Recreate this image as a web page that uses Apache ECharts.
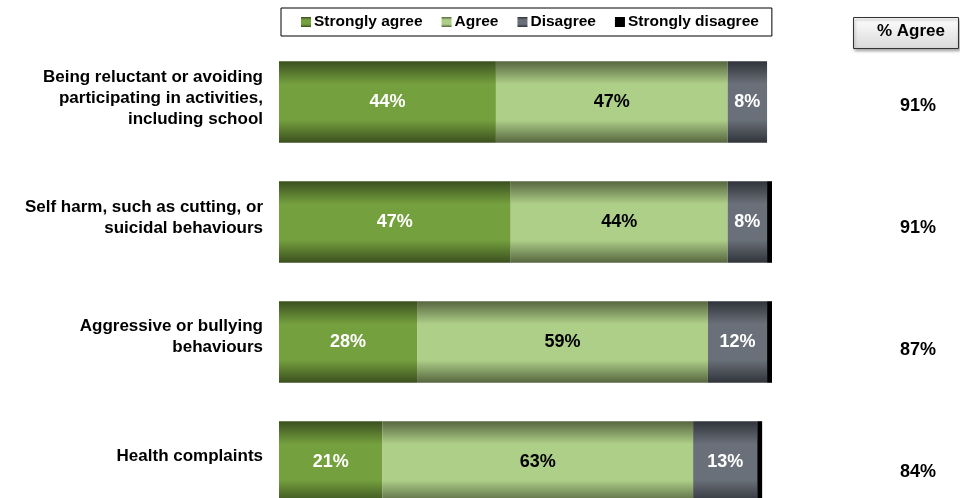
<!DOCTYPE html>
<html>
<head>
<meta charset="utf-8">
<script src="https://cdn.jsdelivr.net/npm/echarts@6/dist/echarts.min.js"></script>
<style>
  html, body { margin: 0; padding: 0; background: #fff; }
  #chart { width: 960px; height: 498px; }
</style>
</head>
<body>
<div id="chart"></div>
<script>
// Survey items, top to bottom
const categories = [
  'Being reluctant or avoiding\nparticipating in activities,\nincluding school',
  'Self harm, such as cutting, or\nsuicidal behaviours',
  'Aggressive or bullying\nbehaviours',
  'Health complaints'
];
// Response shares (%)
const stronglyAgree    = [44, 47, 28, 21];
const agree            = [47, 44, 59, 63];
const disagree         = [8, 8, 12, 13];
const stronglyDisagree = [0, 1, 1, 1];
// Combined "% Agree" column
const pctAgree = [91, 91, 87, 84];
const seriesNames = ['Strongly agree', 'Agree', 'Disagree', 'Strongly disagree'];

const FONT = 'Liberation Sans, Arial, sans-serif';

// vertical shading: dark edges, bright middle band
function band(edge, mid) {
  return new echarts.graphic.LinearGradient(0, 0, 0, 1, [
    { offset: 0, color: edge },
    { offset: 0.28, color: mid },
    { offset: 0.72, color: mid },
    { offset: 1, color: edge }
  ]);
}

const styles = [
  { color: band('#3a4f1f', '#75a03e'), label: '#ffffff' },
  { color: band('#56653f', '#aecf88'), label: '#000000' },
  { color: band('#30333a', '#6a7079'), label: '#ffffff' },
  { color: '#000000', label: '#ffffff' }
];
const values = [stronglyAgree, agree, disagree, stronglyDisagree];

const chart = echarts.init(document.getElementById('chart'));

const series = seriesNames.map((name, i) => ({
  name: name,
  type: 'bar',
  stack: 'total',
  barCategoryGap: '32%',
  xAxisIndex: 0,
  yAxisIndex: 0,
  data: values[i],
  itemStyle: { color: styles[i].color },
  label: {
    show: i < 3,
    position: 'inside',
    color: styles[i].label,
    fontFamily: FONT,
    fontWeight: 'bold',
    fontSize: 18,
    formatter: p => p.value > 0 ? p.value + '%' : ''
  },
  emphasis: { disabled: true }
}));

const hiddenAxis = { axisLine: { show: false }, axisTick: { show: false } };

chart.setOption({
  animation: false,
  backgroundColor: '#ffffff',
  legend: {
    data: seriesNames,
    icon: 'rect',
    left: 281,
    top: 8,
    padding: [6, 13, 6, 20],
    itemWidth: 10,
    itemHeight: 10,
    itemGap: 19,
    borderColor: '#000',
    borderWidth: 1,
    textStyle: { fontFamily: FONT, fontWeight: 'bold', fontSize: 15.5, color: '#000', padding: [0, 0, 0, -2] },
    selectedMode: false
  },
  grid: [
    // bars
    { left: 279, top: 42, width: 493, height: 480, outerBoundsMode: 'none' },
    // "% Agree" column
    { left: 279, top: 45, width: 493, height: 488, outerBoundsMode: 'none' },
    // item captions on the left
    { left: 279, top: 38.5, width: 493, height: 478, outerBoundsMode: 'none' }
  ],
  xAxis: [
    { type: 'value', gridIndex: 0, min: 0, max: 100, show: false },
    { type: 'value', gridIndex: 1, min: 0, max: 100, show: false },
    { type: 'value', gridIndex: 2, min: 0, max: 100, show: false }
  ],
  yAxis: [
    {
      type: 'category',
      gridIndex: 0,
      data: categories,
      inverse: true,
      show: false
    },
    Object.assign({
      type: 'category',
      gridIndex: 1,
      position: 'right',
      data: pctAgree.map(v => v + '%'),
      inverse: true,
      axisLabel: {
        margin: 146,
        align: 'center',
        color: '#000',
        fontFamily: FONT,
        fontWeight: 'bold',
        fontSize: 18
      }
    }, hiddenAxis),
    Object.assign({
      type: 'category',
      gridIndex: 2,
      data: categories,
      inverse: true,
      axisLabel: {
        margin: 16,
        color: '#000',
        fontFamily: FONT,
        fontWeight: 'bold',
        fontSize: 17,
        lineHeight: 21,
        align: 'right'
      }
    }, hiddenAxis)
  ],
  graphic: [
    {
      type: 'rect',
      left: 853,
      top: 17,
      shape: { width: 105, height: 31 },
      style: {
        fill: new echarts.graphic.LinearGradient(0, 0, 0, 1, [
          { offset: 0, color: '#ffffff' },
          { offset: 1, color: '#d9d9d9' }
        ]),
        stroke: '#333',
        lineWidth: 1,
        shadowColor: 'rgba(0,0,0,0.35)',
        shadowBlur: 3,
        shadowOffsetX: 1,
        shadowOffsetY: 2
      }
    },
    {
      type: 'text',
      left: 877,
      top: 23,
      style: {
        text: '% Agree',
        fill: '#000',
        font: 'bold 17px ' + FONT
      }
    }
  ],
  series: series
});
</script>
</body>
</html>
